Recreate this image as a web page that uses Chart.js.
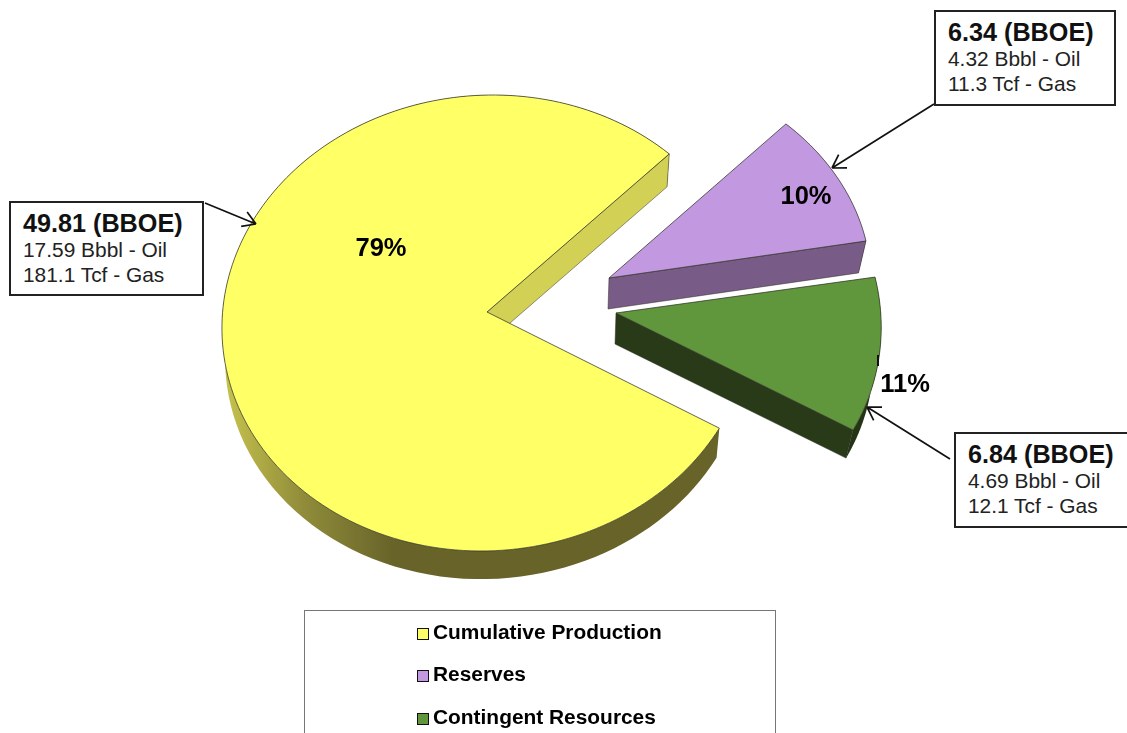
<!DOCTYPE html>
<html>
<head>
<meta charset="utf-8">
<script src="https://cdn.jsdelivr.net/npm/chart.js@4"></script>
<style>
  html, body { margin: 0; padding: 0; background: #fff; }
  #page { position: relative; width: 1127px; height: 733px; overflow: hidden; font-family: "Liberation Sans", Arial, sans-serif; }
  canvas { position: absolute; left: 0; top: 0; }
  .callout { position: absolute; box-sizing: border-box; background: #fff; border: 2px solid #222; color: #222; }
  .callout div { position: absolute; white-space: nowrap; }
  .callout .big { font-weight: bold; font-size: 25.2px; line-height: 28px; color: #111; }
  .callout .small { font-size: 20.9px; line-height: 24px; }
  #legend { position: absolute; left: 304px; top: 610px; width: 472px; height: 140px; box-sizing: border-box; border: 1px solid #777; }
  .legend-row { position: absolute; left: 112px; white-space: nowrap; font-weight: bold; font-size: 20.9px; line-height: 24px; color: #000; }
  .legend-row i { display: inline-block; width: 10px; height: 10px; border: 1.5px solid #111; margin-right: 4px; vertical-align: -0.5px; }
</style>
</head>
<body>
<div id="page">
  <canvas id="pie" width="1127" height="733"></canvas>
</div>
<script>
const categories = ["Cumulative Production", "Reserves", "Contingent Resources"];
const boeValues = [49.81, 6.34, 6.84];
const oilValues = ["17.59", "4.32", "4.69"];
const gasValues = ["181.1", "11.3", "12.1"];

const topColors = ["#FFFF66", "#C299E0", "#60963C"];
const cutWallColors = ["#D2D055", "#785C87", "#283A18"];
const bandColors = [null, "#785C87", "#243516"];

// where each slice sits on the page and how it is tilted (fake 3D)
const apexes = [[487, 312], [609, 278], [616, 313]];
const tilts = [
    [263.6, 8.5, 2.9, 223.9],
    [262, 0.4, 5.5, 213.4],
    [265, 4.9, 10.8, 232.5],
];
// big slice: perspective puts the apex off the centre of its rim ellipse
const rims = [{ cx: 487, cy: 323, ax: 265, sx: -6, ay: 228 }, null, null];
const wallScale = [0.988, 0.975, 0.975];
const wallShift = [[0, 31], [-1, 31], [-1, 31]];

const percentPos = [[381, 249], [806, 197], [905, 385]];
const calloutBoxes = [[9, 201, 195, 95], [934, 10, 182, 96], [954, 432, 190, 96]];
const arrows = [
    [205, 203, 256, 224],
    [934, 104, 832, 168],
    [950, 459, 867, 407],
];

// stretch of the ray from the apex so that it ends on the rim
function rimStretch(i, dx, dy) {
    const r = rims[i];
    if (!r) return 1;
    const y0 = (apexes[i][1] - r.cy) / r.ay;
    const x0 = (apexes[i][0] - r.cx - r.sx * y0) / r.ax;
    const y1 = dy / r.ay;
    const x1 = (dx - r.sx * y1) / r.ax;
    const a = x1 * x1 + y1 * y1;
    const b = 2 * (x0 * x1 + y0 * y1);
    const c = x0 * x0 + y0 * y0 - 1;
    return (-b + Math.sqrt(b * b - 4 * a * c)) / (2 * a);
}

function facePoint(i, angle, bottom) {
    const t = tilts[i];
    const c = Math.cos(angle), n = Math.sin(angle);
    const dx = t[0] * c + t[2] * n;
    const dy = t[1] * c + t[3] * n;
    const s = rimStretch(i, dx, dy) * (bottom ? wallScale[i] : 1);
    return [
        apexes[i][0] + s * dx + (bottom ? wallShift[i][0] : 0),
        apexes[i][1] + s * dy + (bottom ? wallShift[i][1] : 0),
    ];
}

function drawCutWall(ctx, i, angle) {
    const a = [apexes[i][0], apexes[i][1]];
    const a2 = [a[0] + wallShift[i][0], a[1] + wallShift[i][1]];
    const p = facePoint(i, angle, false);
    const p2 = facePoint(i, angle, true);
    ctx.beginPath();
    ctx.moveTo(a[0], a[1]);
    ctx.lineTo(p[0], p[1]);
    ctx.lineTo(p2[0], p2[1]);
    ctx.lineTo(a2[0], a2[1]);
    ctx.closePath();
    ctx.fillStyle = cutWallColors[i];
    ctx.fill();
    ctx.strokeStyle = "rgba(40,40,30,0.6)";
    ctx.lineWidth = 0.8;
    ctx.stroke();
}

function drawBand(ctx, i, start, end) {
    const steps = 120;
    ctx.beginPath();
    for (let k = 0; k <= steps; k++) {
        const p = facePoint(i, start + (end - start) * k / steps, false);
        if (k === 0) ctx.moveTo(p[0], p[1]); else ctx.lineTo(p[0], p[1]);
    }
    for (let k = steps; k >= 0; k--) {
        const p = facePoint(i, start + (end - start) * k / steps, true);
        ctx.lineTo(p[0], p[1]);
    }
    ctx.closePath();
    if (bandColors[i]) {
        ctx.fillStyle = bandColors[i];
    } else {
        const g = ctx.createLinearGradient(228, 0, 395, 0);
        g.addColorStop(0, "#C4C04C");
        g.addColorStop(0.45, "#908C3A");
        g.addColorStop(1, "#676329");
        ctx.fillStyle = g;
    }
    ctx.fill();
}

function drawTop(ctx, i, arc) {
    const steps = 180;
    ctx.beginPath();
    ctx.moveTo(apexes[i][0], apexes[i][1]);
    for (let k = 0; k <= steps; k++) {
        const p = facePoint(i, arc.startAngle + (arc.endAngle - arc.startAngle) * k / steps, false);
        ctx.lineTo(p[0], p[1]);
    }
    ctx.closePath();
    ctx.fillStyle = arc.options.backgroundColor;
    ctx.fill();
    ctx.strokeStyle = arc.options.borderColor;
    ctx.lineWidth = arc.options.borderWidth;
    ctx.lineJoin = "round";
    ctx.stroke();
}

function drawArrow(ctx, a) {
    const ang = Math.atan2(a[3] - a[1], a[2] - a[0]);
    ctx.strokeStyle = "#111";
    ctx.lineWidth = 1.7;
    ctx.beginPath();
    ctx.moveTo(a[0], a[1]);
    ctx.lineTo(a[2], a[3]);
    [-0.55, 0.55].forEach((d) => {
        ctx.moveTo(a[2], a[3]);
        ctx.lineTo(a[2] - 15 * Math.cos(ang + d), a[3] - 15 * Math.sin(ang + d));
    });
    ctx.stroke();
}

const pie3d = {
    id: "pie3d",
    beforeDatasetDraw(chart, args) {
        const ctx = chart.ctx;
        const arcs = chart.getDatasetMeta(args.index).data;
        arcs.forEach((arc, i) => {
            ctx.save();
            drawBand(ctx, i, arc.startAngle, arc.endAngle);
            // only the clockwise end of each slice shows its cut side
            drawCutWall(ctx, i, arc.endAngle);
            drawTop(ctx, i, arc);
            ctx.restore();
        });
        return false;
    },
    afterDraw(chart) {
        const ctx = chart.ctx;
        const total = boeValues.reduce((s, v) => s + v, 0);
        ctx.save();
        ctx.fillStyle = "#000";
        ctx.font = "bold 25.5px 'Liberation Sans', Arial, sans-serif";
        ctx.textAlign = "center";
        ctx.textBaseline = "middle";
        boeValues.forEach((v, i) => {
            ctx.fillText(Math.round(v / total * 100) + "%", percentPos[i][0], percentPos[i][1]);
        });
        arrows.forEach((a) => drawArrow(ctx, a));
        // little leftover tick on the green edge
        ctx.strokeStyle = "#111";
        ctx.lineWidth = 2;
        ctx.beginPath();
        ctx.moveTo(878, 355);
        ctx.lineTo(878, 366);
        ctx.stroke();
        ctx.restore();
    },
};

const chart = new Chart(document.getElementById("pie"), {
    type: "pie",
    data: {
        labels: categories,
        datasets: [{
            data: boeValues,
            backgroundColor: topColors,
            borderColor: "rgba(50,50,40,0.75)",
            borderWidth: 1,
        }],
    },
    options: {
        responsive: false,
        animation: false,
        rotation: 119,
        layout: { padding: 0 },
        plugins: {
            legend: { display: false },
            tooltip: { enabled: false },
        },
    },
    plugins: [pie3d],
});

const page = document.getElementById("page");

// callout boxes
categories.forEach((name, i) => {
    const b = calloutBoxes[i];
    const box = document.createElement("div");
    box.className = "callout";
    box.style.cssText = `left:${b[0]}px;top:${b[1]}px;width:${b[2]}px;height:${b[3]}px`;
    box.innerHTML =
        `<div class="big" style="left:12px;top:6px">${boeValues[i].toFixed(2)} (BBOE)</div>` +
        `<div class="small" style="left:12px;top:35px">${oilValues[i]} Bbbl - Oil</div>` +
        `<div class="small" style="left:12px;top:60px">${gasValues[i]} Tcf - Gas</div>`;
    page.appendChild(box);
});

// html legend built from the chart's labels
const legend = document.createElement("div");
legend.id = "legend";
chart.data.labels.forEach((label, i) => {
    const row = document.createElement("div");
    row.className = "legend-row";
    row.style.top = Math.floor(9 + i * 42.5) + "px";
    row.innerHTML = `<i style="background:${topColors[i]}"></i>${label}`;
    legend.appendChild(row);
});
page.appendChild(legend);
</script>
</body>
</html>
